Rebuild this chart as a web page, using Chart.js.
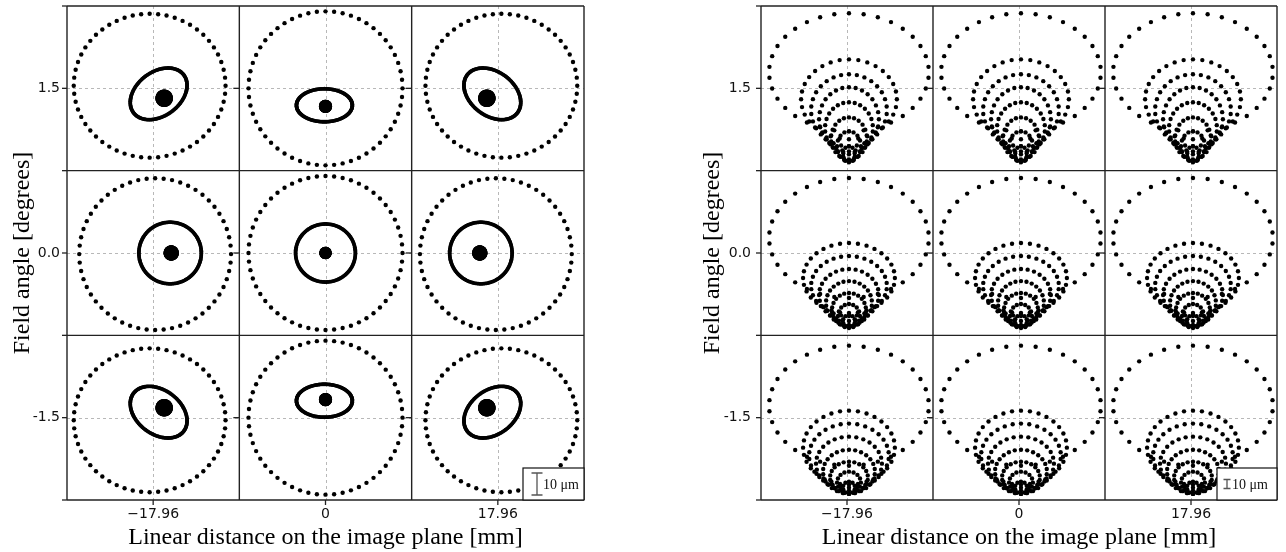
<!DOCTYPE html>
<html><head><meta charset="utf-8">
<script src="https://cdn.jsdelivr.net/npm/chart.js@4.4.1/dist/chart.umd.min.js"></script>
<style>
html,body{margin:0;padding:0;background:#fff;}
#wrap{position:relative;width:1286px;height:552px;overflow:hidden;background:#fff;}
.panel{position:absolute;top:0;width:643px;height:552px;}
</style></head><body>
<div id="wrap">
<div class="panel" style="left:0"><canvas id="c1" width="643" height="552"></canvas></div>
<div class="panel" style="left:643px"><canvas id="c2" width="643" height="552"></canvas></div>
</div>
<script>
// ---------------- data ----------------
const fieldX = [-17.96, 0, 17.96];
const fieldXLabels = ['\u221217.96', '0', '17.96'];
const fieldY = [1.5, 0.0, -1.5];
const fieldYLabels = ['1.5', '0.0', '-1.5'];
const xTitle = 'Linear distance on the image plane [mm]';
const yTitle = 'Field angle [degrees]';
const scaleBarUm = 10;
const scaleBarText = '10 \u03bcm';

// left panel (um, relative to cell centre, y up), cells row by row
const leftOuter = [ // cx, cy, rx, ry
  [-1.6, 1.2, 34.5, 32.7], [0, 0, 35, 35], [1.6, 1.2, 34.5, 32.7],
  [0.9, -0.5, 34.5, 34.5], [0, 0, 35, 35], [-0.9, -0.5, 34.5, 34.5],
  [-1.6, -1.2, 34.5, 32.7], [0, 0, 35, 35], [1.6, -1.2, 34.5, 32.7]
];
const leftInner = [ // cx, cy, a, b, tilt(deg)
  [2.5, -2.5, 14.3, 10, 37], [-0.5, -7.7, 12.7, 7.5, 0], [-2.5, -2.5, 14.3, 10, -37],
  [7.7, 0, 14.2, 14, 0], [0, 0, 13.6, 13.2, 0], [-7.7, 0, 14.2, 14, 0],
  [2.5, 2.5, 14.3, 10, -37], [-0.5, 7.7, 12.7, 7.5, 0], [-2.5, 2.5, 14.3, 10, 37]
];
const leftCore = [ // cx, cy, r
  [5, -4.5, 2], [0, -8.2, 1], [-5, -4.5, 2],
  [8.2, 0, 1.5], [0, 0, 0.8], [-8.2, 0, 1.5],
  [5, 4.5, 2], [0, 8.2, 1], [-5, 4.5, 2]
];
const leftRayCounts = [56, 170, 40];

// right panel rings per row: cx, cy, rx, ry, rays
const rightRingsRow1 = [
  [2.2, 17.8, 88.9, 65.6, 34], [2.2, -12.2, 53.3, 44.4, 32], [2.2, -24.4, 42.2, 40.0, 30],
  [2.2, -34.4, 33.3, 35.6, 28], [2.2, -44.4, 26.7, 28.9, 26], [2.2, -55.6, 20.0, 23.3, 22],
  [2.2, -64.4, 13.3, 16.7, 16], [2.2, -73.3, 6.7, 8.9, 10]
];
const rightRingsRow2 = [
  [2.2, 16.7, 88.9, 66.7, 34], [2.2, -27.8, 51.1, 38.9, 32], [2.2, -36.7, 42.2, 33.3, 30],
  [2.2, -46.7, 33.3, 28.9, 28], [2.2, -55.6, 25.6, 24.4, 26], [2.2, -63.3, 18.9, 18.9, 22],
  [2.2, -70.0, 12.2, 13.3, 16], [2.2, -75.6, 6.7, 6.7, 10]
];
const rightRingsRow3 = [
  [2.2, 13.3, 88.9, 66.7, 34], [2.2, -33.3, 51.1, 41.1, 32], [2.2, -42.2, 44.4, 35.6, 30],
  [2.2, -51.1, 36.7, 30.0, 28], [2.2, -60.0, 28.9, 24.4, 26], [2.2, -66.7, 21.1, 17.8, 22],
  [2.2, -72.2, 13.3, 12.2, 16], [2.2, -77.8, 6.7, 6.7, 10]
];

// ---------------- drawing ----------------
const CELL_W_PX = 517 / 3, CELL_H_PX = 494 / 3;
const SERIF = '"Liberation Serif", "Times New Roman", serif';
const SANS = '"DejaVu Sans", Verdana, sans-serif';

function ring(out, ox, oy, cx, cy, a, b, tiltDeg, n) {
  const th = tiltDeg * Math.PI / 180, c = Math.cos(th), s = Math.sin(th);
  for (let i = 0; i < n; i++) {
    const t = Math.PI / 2 + 2 * Math.PI * i / n;
    const ex = a * Math.cos(t), ey = b * Math.sin(t);
    out.push({x: ox + cx + ex * c - ey * s, y: oy + cy + ex * s + ey * c});
  }
}

function makePanel(id, cfg) {
  const cellW = CELL_W_PX / cfg.pxPerUm, cellH = CELL_H_PX / cfg.pxPerUm;
  const centre = (k) => ({ox: (k % 3 - 1) * cellW, oy: (1 - Math.floor(k / 3)) * cellH});
  const datasets = cfg.groups.map(g => {
    const pts = [];
    for (let k = 0; k < 9; k++) { const o = centre(k); g.fill(pts, o.ox, o.oy, k); }
    return {data: pts, pointRadius: g.r, pointHoverRadius: g.r, pointBackgroundColor: '#000',
            pointBorderWidth: 0, borderWidth: 0, showLine: false};
  });
  const deco = {
    id: 'deco',
    beforeDatasetsDraw(chart) {
      const {ctx, chartArea: a, scales: {x, y}} = chart;
      ctx.save();
      ctx.strokeStyle = '#b8b8b8'; ctx.lineWidth = 1; ctx.setLineDash([3, 3]);
      for (let i = -1; i <= 1; i++) {
        const px = Math.round(x.getPixelForValue(i * cellW)) + 0.5;
        ctx.beginPath(); ctx.moveTo(px, a.top); ctx.lineTo(px, a.bottom); ctx.stroke();
        const py = Math.round(y.getPixelForValue(i * cellH)) + 0.5;
        ctx.beginPath(); ctx.moveTo(a.left, py); ctx.lineTo(a.right, py); ctx.stroke();
      }
      ctx.restore();
    },
    afterDatasetsDraw(chart) {
      const {ctx, chartArea: a, scales: {x, y}} = chart;
      ctx.save();
      ctx.strokeStyle = '#222'; ctx.lineWidth = 1.4; ctx.setLineDash([]);
      for (let i = -1.5; i <= 1.5; i += 1) {
        const px = x.getPixelForValue(i * cellW);
        ctx.beginPath(); ctx.moveTo(px, a.top); ctx.lineTo(px, a.bottom); ctx.stroke();
        const py = y.getPixelForValue(i * cellH);
        ctx.beginPath(); ctx.moveTo(a.left, py); ctx.lineTo(a.right, py); ctx.stroke();
      }
      ctx.lineWidth = 1.3;
      for (let i = -1.5; i <= 1.5; i += 0.5) {
        const py = y.getPixelForValue(i * cellH);
        ctx.beginPath(); ctx.moveTo(a.left - 5, py); ctx.lineTo(a.left, py); ctx.stroke();
      }
      for (let i = -1; i <= 1; i++) {
        const px = x.getPixelForValue(i * cellW);
        ctx.beginPath(); ctx.moveTo(px, a.bottom); ctx.lineTo(px, a.bottom + 5); ctx.stroke();
        for (const d of [-0.5, 0.5]) {
          const dx = x.getPixelForValue(d * cellW);
          const py = y.getPixelForValue(i * cellH);
          ctx.beginPath(); ctx.moveTo(dx - 6, py); ctx.lineTo(dx, py); ctx.stroke();
        }
      }
      const bw = cfg.boxW, bh = 32;
      const bx = a.right - bw, by = a.bottom - bh;
      ctx.fillStyle = '#fff'; ctx.fillRect(bx, by, bw, bh);
      ctx.strokeStyle = '#111'; ctx.lineWidth = 1.2; ctx.strokeRect(bx, by, bw, bh);
      const len = Math.abs(y.getPixelForValue(0) - y.getPixelForValue(scaleBarUm));
      const cx = bx + cfg.barDx, cy = by + bh / 2;
      ctx.strokeStyle = '#555'; ctx.lineWidth = 1.3;
      ctx.beginPath();
      ctx.moveTo(cx, cy - len / 2); ctx.lineTo(cx, cy + len / 2);
      ctx.moveTo(cx - cfg.cap, cy - len / 2); ctx.lineTo(cx + cfg.cap, cy - len / 2);
      ctx.moveTo(cx - cfg.cap, cy + len / 2); ctx.lineTo(cx + cfg.cap, cy + len / 2);
      ctx.stroke();
      ctx.fillStyle = '#111'; ctx.font = '14px ' + SERIF; ctx.textBaseline = 'middle'; ctx.textAlign = 'left';
      ctx.fillText(scaleBarText, cx + cfg.textDx, cy + 1);
      ctx.restore();
    }
  };
  return new Chart(document.getElementById(id), {
    type: 'scatter',
    data: {datasets},
    plugins: [deco],
    options: {
      responsive: false, animation: false, events: [],
      layout: {padding: {left: 0, right: cfg.padRight, top: 6, bottom: 0}},
      plugins: {legend: {display: false}, tooltip: {enabled: false}},
      scales: {
        x: {
          type: 'linear', min: -1.5 * cellW, max: 1.5 * cellW,
          afterBuildTicks: s => { s.ticks = fieldX.map((v, i) => ({value: (i - 1) * cellW})); },
          afterFit: s => { s.height = 52; s.paddingLeft = 0; s.paddingRight = 0; },
          ticks: {callback: (v, i) => fieldXLabels[i], font: {family: SANS, size: 14}, color: '#111',
                  padding: 6, maxRotation: 0, autoSkip: false},
          grid: {display: false, drawTicks: false}, border: {display: false},
          title: {display: true, text: xTitle, color: '#000', font: {family: SERIF, size: 24}, padding: {top: 0, bottom: 0}}
        },
        y: {
          type: 'linear', min: -1.5 * cellH, max: 1.5 * cellH,
          afterBuildTicks: s => { s.ticks = fieldY.map((v, i) => ({value: (1 - i) * cellH})); },
          afterFit: s => { s.width = cfg.yAxisW; s.paddingTop = 0; s.paddingBottom = 0; },
          ticks: {callback: (v, i) => fieldYLabels[i], font: {family: SANS, size: 14}, color: '#111',
                  padding: cfg.yTickPad, autoSkip: false},
          grid: {display: false, drawTicks: false}, border: {display: false},
          title: {display: true, text: yTitle, color: '#000', font: {family: SERIF, size: 24}, padding: {top: cfg.yTitlePad, bottom: 0}}
        }
      }
    }
  });
}

makePanel('c1', {
  pxPerUm: 2.2, padRight: 59, yAxisW: 67, yTickPad: 7, yTitlePad: 8,
  boxW: 61, barDx: 14, cap: 5.5, textDx: 6,
  groups: [
    {r: 2.2, fill: (p, ox, oy, k) => { const o = leftOuter[k]; ring(p, ox, oy, o[0], o[1], o[2], o[3], 0, leftRayCounts[0]); }},
    {r: 1.9, fill: (p, ox, oy, k) => { const o = leftInner[k]; ring(p, ox, oy, o[0], o[1], o[2], o[3], o[4], leftRayCounts[1]); }},
    {r: 4.4, fill: (p, ox, oy, k) => { const o = leftCore[k]; ring(p, ox, oy, o[0], o[1], o[2], o[2], 0, leftRayCounts[2]); }}
  ]
});

const rightRows = [rightRingsRow1, rightRingsRow2, rightRingsRow3];
makePanel('c2', {
  pxPerUm: 0.9, padRight: 9, yAxisW: 118, yTickPad: 10, yTitlePad: 55,
  boxW: 60, barDx: 10, cap: 3.5, textDx: 5,
  groups: [
    {r: 2.2, fill: (p, ox, oy, k) => {
      for (const o of rightRows[Math.floor(k / 3)]) ring(p, ox, oy, o[0], o[1], o[2], o[3], 0, o[4]);
    }}
  ]
});
</script>
</body></html>
